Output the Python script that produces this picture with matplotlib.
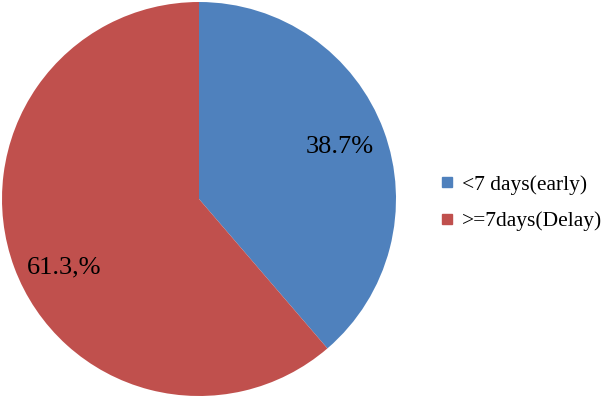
"""Pie chart of time to presentation: early vs delayed."""

import matplotlib
matplotlib.use("Agg")
import matplotlib.pyplot as plt
from matplotlib.lines import Line2D

categories = ["<7 days(early)", ">=7days(Delay)"]
shares = [38.7, 61.3]
share_labels = ["38.7%", "61.3,%"]
colors = ["#4F81BD", "#C0504D"]

plt.rcParams["font.family"] = ["Liberation Serif", "DejaVu Serif"]

fig = plt.figure(figsize=(6.03, 3.98), dpi=100)
ax = fig.add_axes([2 / 603, 2 / 398, 394 / 603, 394 / 398])

label_iter = iter(share_labels)
wedges, _, autotexts = ax.pie(shares, colors=colors, startangle=90, counterclock=False,
                              autopct=lambda p: next(label_iter), pctdistance=0.76,
                              textprops={"fontsize": 19, "color": "black"})
# the delay label sits a little lower than the wedge middle
autotexts[1].set_position((-0.685, -0.35))
ax.set_xlim(-1, 1)
ax.set_ylim(-1, 1)
ax.set_aspect("equal")

handles = [Line2D([], [], marker="s", linestyle="none", markersize=7.5,
                  markerfacecolor=c, markeredgecolor=c) for c in colors]
fig.legend(handles, categories, loc="center left", bbox_to_anchor=(431 / 603, 195 / 398),
           frameon=False, fontsize=15.5, handlelength=0.7, handletextpad=0.35,
           labelspacing=0.75, borderaxespad=0)

fig.savefig("out.png", dpi=100)
